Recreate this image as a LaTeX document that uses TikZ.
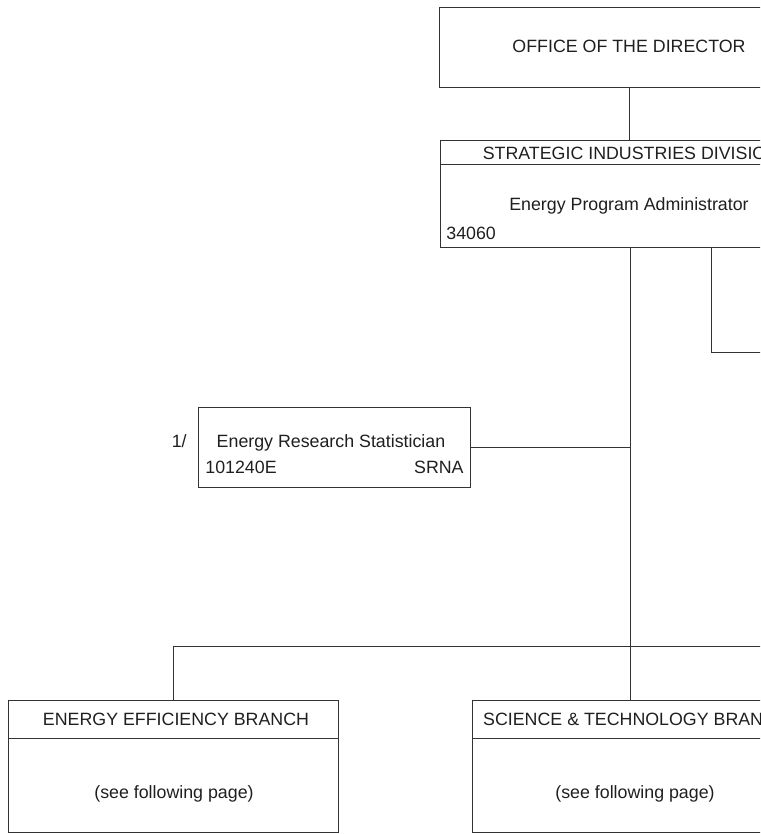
\documentclass[tikz,border=0pt]{standalone}
\usepackage{fontspec}
\setmainfont{Liberation Sans}
\tikzset{
  orgbox/.style={draw, rectangle, inner sep=0pt},
  lbl/.style={inner sep=0pt, text=black!88, font=\fontsize{17.8}{20}\selectfont},
}
\begin{document}
\begin{tikzpicture}[x=1pt, y=-1pt, line width=0.8pt, draw=black!80]
    \useasboundingbox (0,0) rectangle (760,834);
    \clip (0,0) rectangle (760,834);
    % boxes
    \node[orgbox, minimum width=380pt, minimum height=80pt] (dir) at (629,47) {};
    \node[orgbox, minimum width=379pt, minimum height=107pt] (div) at (629.5,193.5) {};
    \node[orgbox, minimum width=272pt, minimum height=80pt] (stat) at (334,447) {};
    \node[orgbox, minimum width=330pt, minimum height=132pt] (ee) at (173,766) {};
    \node[orgbox, minimum width=316pt, minimum height=132pt] (st) at (630,766) {};
    % header rules
    \draw (div.west |- 0,164) -- (div.east |- 0,164);
    \draw (ee.west |- 0,738) -- (ee.east |- 0,738);
    \draw (st.west |- 0,738) -- (st.east |- 0,738);
    % texts
    \node[lbl] (dirname) at (629,46) {OFFICE OF THE DIRECTOR};
    \node[lbl] (divname) at (631,153) {STRATEGIC INDUSTRIES DIVISION};
    \node[lbl] (divhead) at (629,206) {Energy Program Administrator};
    \node[lbl, anchor=west] (divnum) at (446,233) {34060};
    \node[lbl] (statname) at (331,443) {Energy Research Statistician};
    \node[lbl, anchor=west] (statnum) at (205,467) {101240E};
    \node[lbl, anchor=east] (statcode) at (464,467) {SRNA};
    \node[lbl, anchor=east] (statnote) at (187,441) {1/};
    \node[lbl] (eename) at (176,719) {ENERGY EFFICIENCY BRANCH};
    \node[lbl] (eenote) at (174,794) {(see following page)};
    \node[lbl] (stname) at (636,719) {SCIENCE \& TECHNOLOGY BRANCH};
    \node[lbl] (stnote) at (635,794) {(see following page)};
    % connectors
    \coordinate (tap) at (711,247);
    \coordinate (sideend) at (800,352);
    \coordinate (barend) at (800,646);
    \draw (dir.south) -- (div.north -| dir.south);
    \draw (div.south -| st.north) -- (st.north);
    \draw (stat.east) -- (stat.east -| st.north);
    \draw (ee.north) |- (barend);
    \draw (tap) |- (sideend);
\end{tikzpicture}
\end{document}
